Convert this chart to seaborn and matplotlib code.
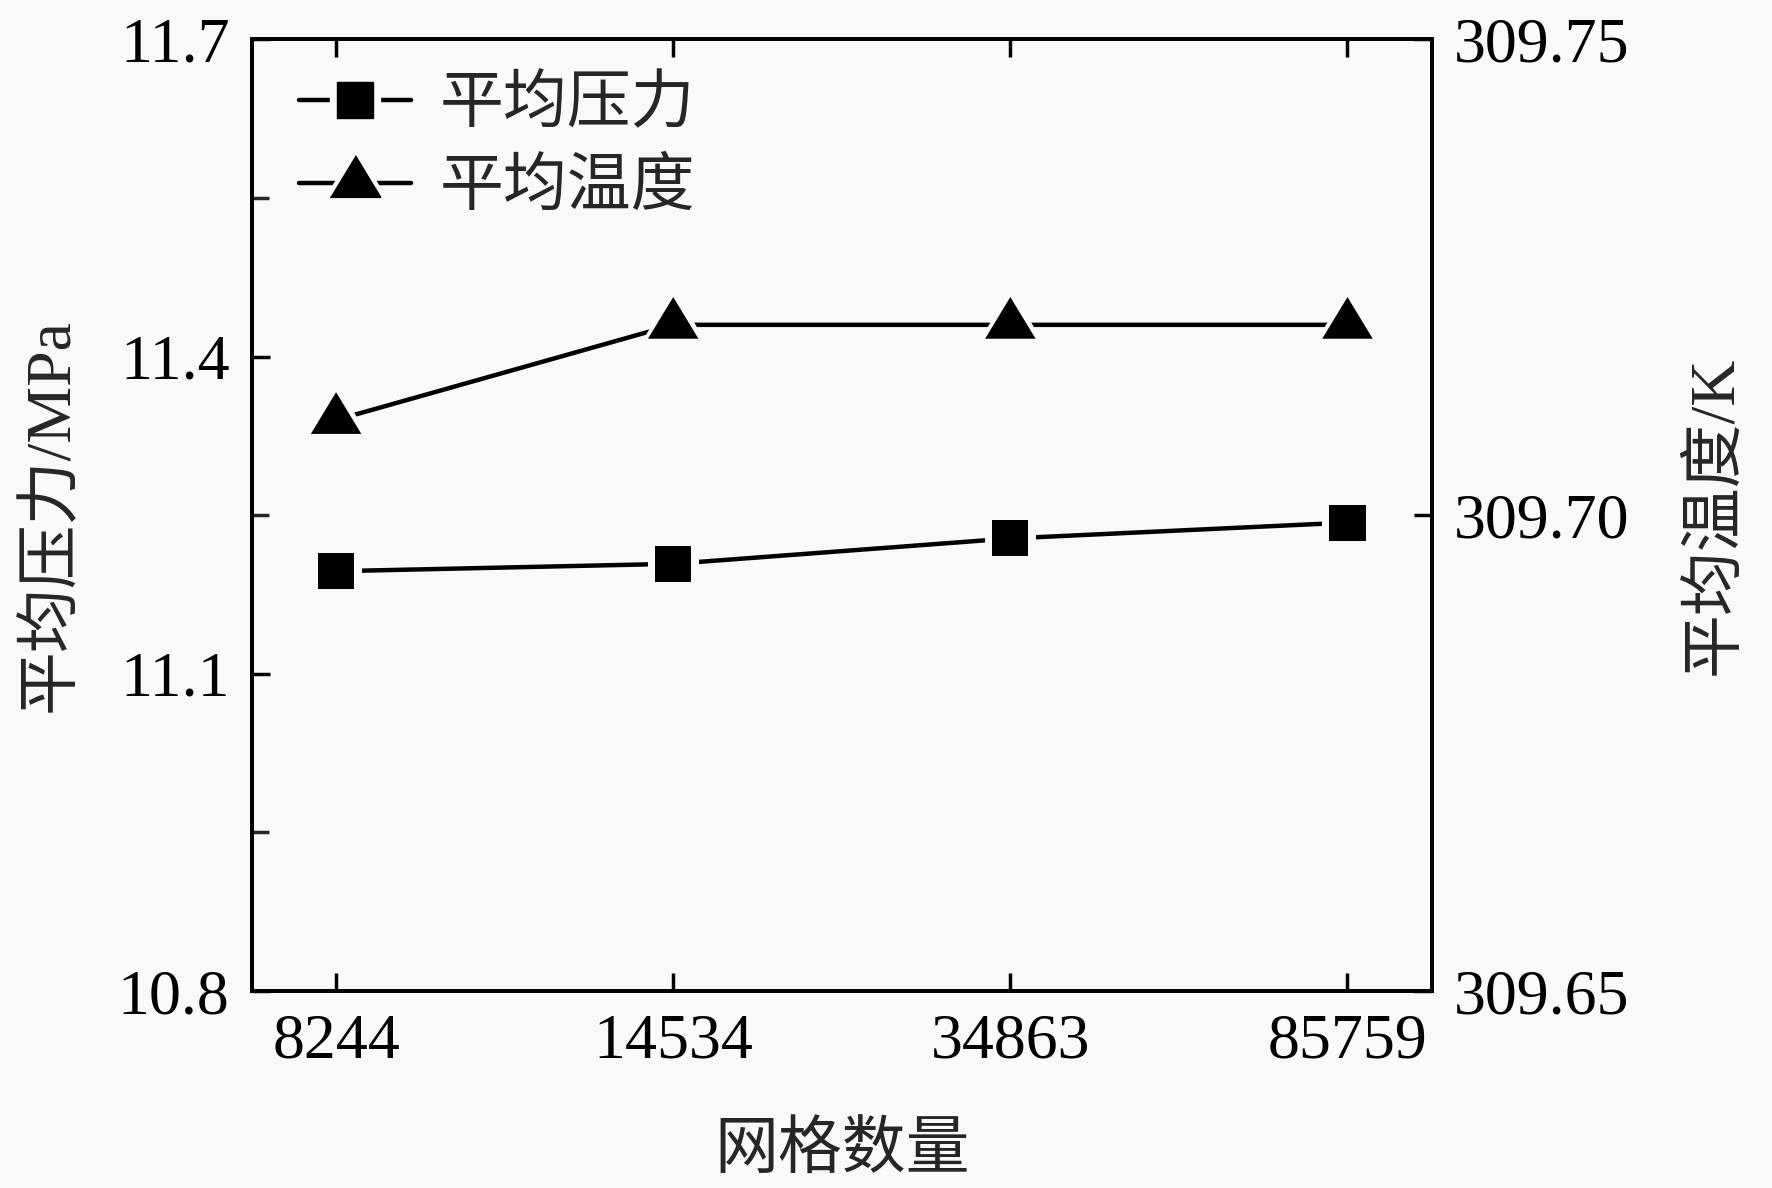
import numpy as np
import pandas as pd
import matplotlib
matplotlib.use("Agg")
import matplotlib.pyplot as plt
import seaborn as sns
from matplotlib.lines import Line2D
from matplotlib.legend_handler import HandlerTuple
import matplotlib.ticker as mtick

# data
grid_counts = ["8244", "14534", "34863", "85759"]
avg_pressure = [11.197, 11.204, 11.228, 11.243]       # MPa, left axis
avg_temperature = [309.710, 309.720, 309.720, 309.720]  # K, right axis

sns.set_theme(style="ticks")
plt.rcParams["font.family"] = ["Liberation Serif", "Noto Sans CJK SC"]
plt.rcParams["axes.unicode_minus"] = False

bg = "#f9f9f9"
lw = 3.2
fs = 46

df = pd.DataFrame({
    "grid": pd.Categorical(grid_counts, categories=grid_counts, ordered=True),
    "pressure": avg_pressure,
    "temperature": avg_temperature,
})

# triangle with its centroid on the data point (Origin style)
tri = [(-1, -0.55), (1, -0.55), (0, 1.1)]

fig = plt.figure(figsize=(17.72, 11.88), dpi=100, facecolor=bg)
ax = fig.add_axes([0.1421, 0.1658, 0.6659, 0.8011])
ax.set_facecolor(bg)
ax2 = ax.twinx()

# pressure: line + background "gap" marker, then solid marker on top
sns.lineplot(data=df, x="grid", y="pressure", ax=ax, sort=False, color="black",
             lw=lw, marker="s", markersize=36, markerfacecolor=bg,
             markeredgecolor=bg, zorder=2)
sns.scatterplot(data=df, x="grid", y="pressure", ax=ax, marker="s", s=26 ** 2,
                color="black", edgecolor="none", zorder=3)

# temperature on the twin axis
sns.lineplot(data=df, x="grid", y="temperature", ax=ax2, sort=False, color="black",
             lw=lw, marker=tri, markersize=52, markerfacecolor=bg,
             markeredgecolor=bg, zorder=2)
sns.scatterplot(data=df, x="grid", y="temperature", ax=ax2, marker=tri, s=40 ** 2,
                color="black", edgecolor="none", zorder=3)

ax.set_xlim(-0.25, 3.25)
ax.set_ylim(10.8, 11.7)
ax.set_yticks([10.8, 11.1, 11.4, 11.7])
ax.yaxis.set_minor_locator(mtick.AutoMinorLocator(2))
ax.yaxis.set_major_formatter(mtick.FormatStrFormatter("%.1f"))
ax2.set_ylim(309.65, 309.75)
ax2.set_yticks([309.65, 309.70, 309.75])
ax2.yaxis.set_major_formatter(mtick.FormatStrFormatter("%.2f"))

ax.tick_params(axis="both", which="major", direction="in", length=13, width=2.5,
               labelsize=fs, pad=16, top=True, right=False, colors="black")
ax.tick_params(axis="y", which="minor", direction="in", length=12, width=2.5,
               right=False)
ax2.tick_params(axis="y", which="major", direction="in", length=13, width=2.5,
                labelsize=fs, pad=16, colors="black")

for a in (ax, ax2):
    for sp in a.spines.values():
        sp.set_linewidth(2.8)
        sp.set_color("black")

ax.set_xlabel("网格数量", fontsize=fs, labelpad=38)
ax.set_ylabel("平均压力/MPa", fontsize=fs, labelpad=26)
ax2.set_ylabel("平均温度/K", fontsize=fs, labelpad=41)

h1 = (Line2D([], [], color="black", lw=lw, marker="s", ms=36, mfc=bg, mec=bg),
      Line2D([], [], ls="none", marker="s", ms=26, color="black"))
h2 = (Line2D([], [], color="black", lw=lw, marker=tri, ms=52, mfc=bg, mec=bg),
      Line2D([], [], ls="none", marker=tri, ms=40, color="black"))
ax2.legend([h1, h2], ["平均压力", "平均温度"], handler_map={tuple: HandlerTuple(ndivide=1)},
           loc="upper left", bbox_to_anchor=(0.04, 0.961), frameon=False,
           fontsize=fs, handlelength=1.75, handletextpad=0.45, labelspacing=0.37,
           borderpad=0, borderaxespad=0)

fig.savefig("out.png", dpi=100, facecolor=bg)
